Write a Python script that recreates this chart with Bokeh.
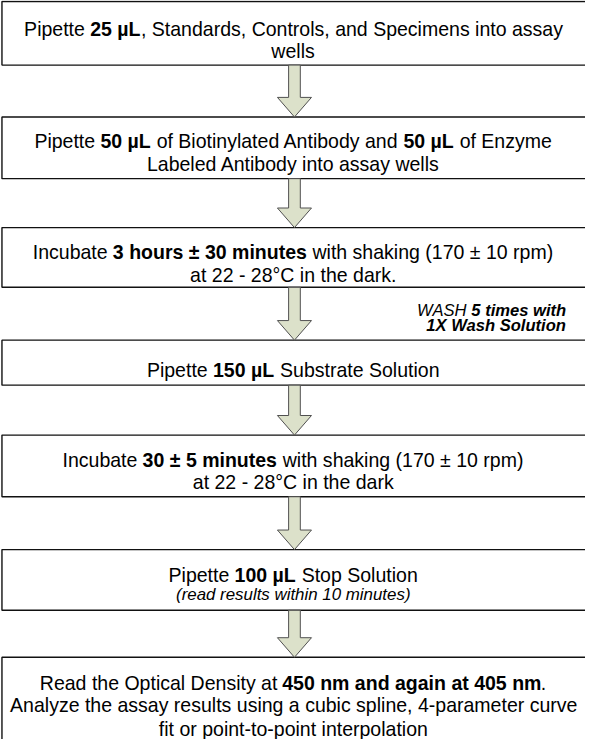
from bokeh.plotting import figure
from bokeh.models import Range1d
from bokeh.core.properties import value
from bokeh.embed import file_html
from bokeh.resources import INLINE

# ---------------- data: the text of each step (segments: text, style) ----------------
step1_lines = [
    [("Pipette ", "normal"), ("25 µL", "bold"), (", Standards, Controls, and Specimens into assay", "normal")],
    [("wells", "normal")],
]
step2_lines = [
    [("Pipette ", "normal"), ("50 µL", "bold"), (" of Biotinylated Antibody and ", "normal"),
     ("50 µL", "bold"), (" of Enzyme", "normal")],
    [("Labeled Antibody into assay wells", "normal")],
]
step3_lines = [
    [("Incubate ", "normal"), ("3 hours ± 30 minutes", "bold"), (" with shaking (170 ± 10 rpm)", "normal")],
    [("at 22 - 28°C in the dark.", "normal")],
]
wash_lines = [
    [("WASH ", "italic"), ("5 times with", "bold italic")],
    [("1X Wash Solution", "bold italic")],
]
step4_lines = [
    [("Pipette ", "normal"), ("150 µL", "bold"), (" Substrate Solution", "normal")],
]
step5_lines = [
    [("Incubate ", "normal"), ("30 ± 5 minutes", "bold"), (" with shaking (170 ± 10 rpm)", "normal")],
    [("at 22 - 28°C in the dark", "normal")],
]
step6_lines = [
    [("Pipette ", "normal"), ("100 µL", "bold"), (" Stop Solution", "normal")],
    [("(read results within 10 minutes)", "italic")],
]
step7_lines = [
    [("Read the Optical Density at ", "normal"), ("450 nm and again at 405 nm", "bold"), (".", "normal")],
    [("Analyze the assay results using a cubic spline, 4-parameter curve", "normal")],
    [("fit or point-to-point interpolation", "normal")],
]

# ---------------- layout ----------------
W, H = 585, 739
REF_W, REF_H = 601, 755
sx = W / REF_W
sy = H / REF_H
k = (sx + sy) / 2

# Arial-compatible advance widths (per 1000 em)
_reg = dict(zip("abcdefghijklmnopqrstuvwxyz",
                [556, 556, 500, 556, 556, 278, 556, 556, 222, 222, 500, 222, 833, 556, 556, 556, 556, 333, 500, 278,
                 556, 500, 722, 500, 500, 500]))
_reg.update(zip("ABCDEFGHIJKLMNOPQRSTUVWXYZ",
                [667, 667, 722, 722, 667, 611, 778, 722, 278, 500, 667, 556, 833, 722, 778, 667, 778, 722, 667, 611,
                 722, 667, 944, 667, 667, 611]))
_bold = dict(zip("abcdefghijklmnopqrstuvwxyz",
                 [556, 611, 556, 611, 556, 333, 611, 611, 278, 278, 556, 278, 889, 611, 611, 611, 611, 389, 556, 333,
                  611, 556, 778, 556, 556, 500]))
_bold.update(zip("ABCDEFGHIJKLMNOPQRSTUVWXYZ",
                 [722, 722, 722, 722, 667, 611, 778, 722, 278, 556, 722, 611, 833, 722, 778, 667, 778, 722, 667, 611,
                  722, 667, 944, 667, 667, 611]))
for d, mu in ((_reg, 556), (_bold, 611)):
    for c in "0123456789":
        d[c] = 556
    d.update({" ": 278, ",": 278, ".": 278, "-": 333, "(": 333, ")": 333, "±": 584, "°": 400, "µ": mu})


def text_width(s, style, size_px):
    table = _bold if "bold" in style else _reg
    return sum(table.get(c, 556) for c in s) / 1000.0 * size_px


FONT = "Liberation Sans"

p = figure(width=W, height=H, output_backend="svg", toolbar_location=None,
           x_range=Range1d(0, REF_W), y_range=Range1d(REF_H, 0),
           min_border=0, background_fill_color="white", border_fill_color="white")
p.axis.visible = False
p.grid.visible = False
p.outline_line_color = None

# boxes (top, bottom) in reference pixels; right edge runs off the page
boxes = [(1, 66), (119, 182), (232, 293), (347, 393), (444, 507), (561, 623), (671, 762)]
box_left, box_right = 1.5, 606
p.quad(left=[box_left] * len(boxes), right=[box_right] * len(boxes),
       top=[b[0] for b in boxes], bottom=[b[1] for b in boxes],
       fill_color="white", line_color="#111111", line_width=1.4)

# arrows between boxes
cx = 302
shaft_half, head_half, head_h = 6, 17.5, 20
xs, ys = [], []
for (t0, b0), (t1, b1) in zip(boxes[:-1], boxes[1:]):
    top, tip = b0, t1
    ht = tip - head_h
    xs.append([cx - shaft_half, cx + shaft_half, cx + shaft_half, cx + head_half, cx,
               cx - head_half, cx - shaft_half])
    ys.append([top, top, ht, ht, tip, ht, ht])
p.patches(xs, ys, fill_color="#DCE1CA", line_color="#505050", line_width=1)

# text placement (segments laid out with Arial metrics; surrounding spaces become offsets)
segments = {}


def place_line(segs, y, size_px, center=None, right=None):
    total = sum(text_width(s, st, size_px) for s, st in segs)
    x = center - total / 2 if center is not None else right - total
    for s, st in segs:
        lead = len(s) - len(s.lstrip(" "))
        core = s.strip(" ")
        if core:
            key = (st, size_px)
            d = segments.setdefault(key, {"x": [], "y": [], "t": []})
            d["x"].append(x + text_width(" " * lead, st, size_px))
            d["y"].append(y)
            d["t"].append(core)
        x += text_width(s, st, size_px)


CX = 300.5
for lines, bases, sizes in [
    (step1_lines, [29, 52], [20, 20]),
    (step2_lines, [144, 167], [20, 20]),
    (step3_lines, [257, 280], [20, 20]),
    (step4_lines, [377], [20]),
    (step5_lines, [469, 492], [20, 20]),
    (step6_lines, [587, 607], [20, 17.3]),
    (step7_lines, [697, 720, 744], [20, 20, 20]),
]:
    for segs, yb, fs in zip(lines, bases, sizes):
        place_line(segs, yb, fs, center=CX)

for segs, yb in zip(wash_lines, [317, 332]):
    place_line(segs, yb, 17, right=581)

for (st, size), d in segments.items():
    p.text(x=d["x"], y=d["y"], text=d["t"], text_align="left", text_baseline="alphabetic",
           text_font=value(FONT), text_font_style=st, text_font_size=f"{size * k:.2f}px",
           text_color="#000000")

open("out.html", "w").write(file_html(p, INLINE))
